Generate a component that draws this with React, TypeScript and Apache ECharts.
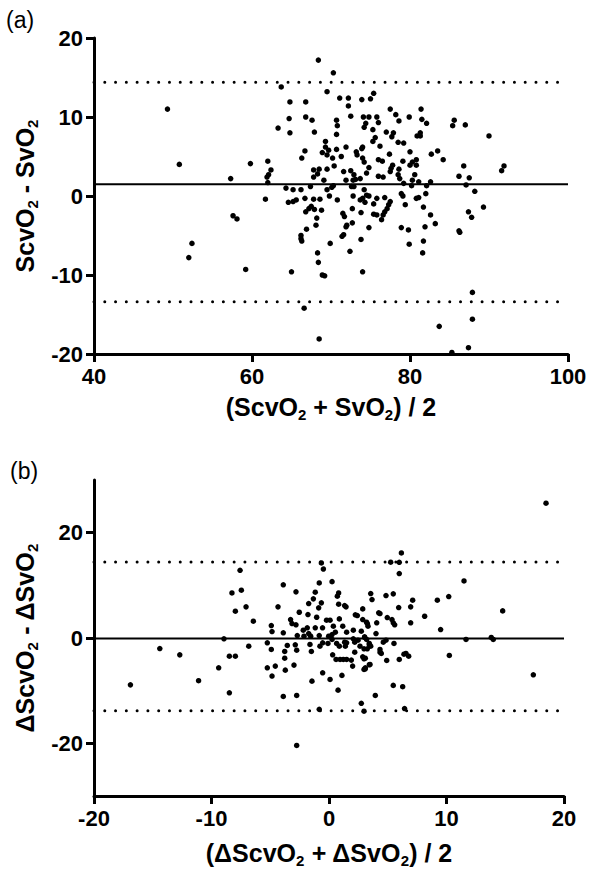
import React, { useEffect, useRef } from "react";
import * as echarts from "echarts";

// ---------- Data: panel (a) ----------
const pointsA: number[][] = [
  [49.3, 11.0], [50.8, 4.0], [52.4, -6.0], [52.0, -7.8], [57.6, -2.5], [58.1, -2.9], [59.2, -9.3],
  [68.4, 17.2], [70.3, 15.6],
  [63.7, 13.8], [69.5, 13.2], [71.1, 12.4], [72.2, 12.4], [72.2, 11.4], [73.9, 12.2], [75.0, 12.3], [75.4, 13.0],
  [64.8, 11.9], [66.8, 11.9], [72.5, 10.1], [74.1, 10.0], [74.8, 10.0], [75.8, 10.0], [64.7, 9.8], [66.8, 10.0],
  [67.6, 9.6], [70.7, 9.6], [70.8, 8.9], [63.3, 8.6], [64.8, 8.0], [67.9, 8.1], [70.7, 7.8], [74.4, 9.2],
  [74.2, 8.7], [75.3, 8.4], [76.0, 9.3], [75.6, 7.4], [75.3, 6.9], [69.3, 6.9], [69.3, 6.2], [68.9, 5.5],
  [69.7, 5.8], [70.7, 5.9], [71.9, 6.2], [73.2, 5.6], [73.3, 5.2], [73.9, 6.0], [74.0, 6.2], [66.7, 5.7],
  [66.3, 4.8], [69.5, 5.2], [70.2, 4.8], [71.3, 5.0], [74.0, 4.8], [74.2, 4.3], [76.0, 4.6], [62.0, 4.4],
  [59.8, 4.1], [62.4, 3.3], [62.1, 2.7], [61.9, 2.4], [57.3, 2.2], [70.4, 3.8], [69.5, 3.4], [68.5, 3.4],
  [67.8, 3.3], [68.3, 2.8], [67.8, 2.4], [71.6, 3.1], [72.5, 3.2], [72.9, 2.7], [72.8, 2.0], [73.1, 2.1],
  [73.7, 2.2], [74.8, 3.6], [74.5, 2.9], [76.0, 2.5], [71.9, 2.0], [69.1, 2.0], [62.0, 1.7], [67.4, 1.2],
  [70.3, 1.3], [70.1, 1.1], [72.6, 1.2], [72.9, 1.2], [64.3, 1.0], [65.2, 0.8], [66.2, 0.8], [69.5, 0.8],
  [74.2, 0.8], [75.8, -0.3], [74.5, 0.1], [74.8, 0.0], [69.8, 0.0], [72.8, 0.0], [61.7, -0.4], [65.6, -0.5],
  [65.2, -0.7], [64.6, -0.8], [66.7, -0.3], [67.8, -0.4], [68.6, -0.4], [70.8, -0.5], [73.7, -0.5], [74.0, -0.3],
  [67.5, -1.3], [67.2, -1.6], [66.8, -2.0], [67.9, -1.7], [68.8, -1.8], [72.7, -1.6], [74.3, -0.8], [75.4, -2.3],
  [75.8, -2.4], [73.8, -2.1], [71.5, -2.2], [71.7, -2.6], [68.2, -2.8], [68.1, -3.7], [72.0, -3.7], [71.9, -3.9],
  [72.7, -3.4], [74.8, -4.0], [66.9, -4.2], [66.2, -5.0], [66.2, -5.4], [66.3, -5.7], [71.6, -4.9], [71.4, -5.1],
  [69.9, -6.0], [73.8, -5.5], [72.4, -7.0], [68.3, -7.2], [68.4, -8.4], [65.0, -9.6], [68.9, -10.0], [69.2, -10.1],
  [74.0, -9.6],
  [77.5, 11.0], [78.2, 10.3], [78.6, 9.5], [79.9, 10.0], [81.4, 11.0], [81.5, 9.7], [82.1, 9.2], [81.3, 8.0],
  [80.9, 7.6], [81.3, 7.6], [77.0, 8.1], [77.9, 8.0], [77.7, 7.5], [76.2, 6.3], [78.5, 6.8], [79.2, 6.7],
  [80.0, 5.6], [82.7, 5.3], [83.5, 5.7], [84.2, 4.6], [77.4, 5.3], [76.5, 4.4], [79.1, 4.4], [80.0, 3.9],
  [80.3, 4.3], [80.8, 4.6], [80.8, 3.9], [77.8, 3.9], [77.6, 3.5], [77.5, 3.1], [78.6, 3.4], [78.5, 2.7],
  [78.7, 2.2], [76.6, 2.4], [80.3, 2.0], [80.6, 2.7], [81.1, 1.8], [82.6, 1.8], [79.2, 1.6], [80.2, 1.3],
  [82.1, 1.3], [86.2, 2.5], [86.8, 3.8], [87.5, 2.3], [87.1, 1.4], [88.2, 0.6], [85.4, 8.9], [85.6, 9.6],
  [87.0, 9.0], [90.0, 7.6], [91.6, 3.2], [91.9, 3.8], [75.4, -1.0], [76.8, -0.2], [77.5, -0.7], [77.3, -1.1],
  [77.1, -1.6], [76.8, -2.0], [78.9, 0.3], [79.1, 0.0], [79.4, -1.1], [81.1, -0.2], [80.8, -0.3], [82.0, 0.3],
  [81.7, -1.4], [82.6, -2.4], [76.6, -2.4], [76.4, -3.0], [78.9, -4.0], [79.8, -4.3], [81.9, -3.9], [83.2, -3.5],
  [86.2, -4.4], [86.3, -4.6], [87.4, -2.0], [87.8, -2.7], [89.3, -1.4], [79.9, -6.1], [81.7, -5.7], [81.6, -7.2],
  [66.6, -14.2], [68.5, -18.1], [87.9, -12.2], [87.9, -15.6], [83.7, -16.5], [87.4, -19.2], [85.3, -19.8],
];
const meanA = 1.5;
const upperA = 14.4;
const lowerA = -13.4;
const xRangeA = [40, 100];
const yRangeA = [-20, 20];

// ---------- Data: panel (b) ----------
const pointsB: number[][] = [
  [-14.4, -2.0], [-12.7, -3.2], [-16.9, -8.9], [-11.1, -8.1],
  [-7.57, 12.85], [-8.26, 8.56], [-7.46, 9.07], [-7.97, 5.09], [-7.06, 5.91], [-6.44, 3.19], [-8.94, -0.16],
  [-6.83, -1.55], [-8.48, -3.45], [-7.97, -3.45], [-9.39, -5.66], [-8.48, -10.4], [-0.48, 13.1], [-0.65, 14.25],
  [-3.89, 10.1], [-2.81, 8.76], [0.26, 10.7], [-0.83, 10.46], [-1.17, 8.69], [-1.73, 6.54], [-1.33, 7.43],
  [-0.88, 5.72], [-0.65, 6.67], [0.71, 7.93], [0.82, 6.41], [1.33, 6.16], [1.45, 5.91], [-4.34, 5.91],
  [-2.53, 4.89], [-1.79, 4.45], [-1.05, 3.94], [-3.27, 3.51], [-3.15, 2.75], [-4.91, 2.37], [-4.85, 1.23],
  [-3.89, 0.98], [-2.81, 2.5], [-2.19, 1.48], [-1.85, 1.93], [-1.17, 1.93], [-0.55, 1.93], [-0.21, 3.38],
  [0.09, 3.38], [0.88, 3.63], [0.37, 2.24], [1.17, 2.24], [-2.7, 0.47], [-2.13, 0.34], [-1.73, 0.85],
  [-1.56, 0.34], [-0.83, 0.47], [-0.03, 0.34], [0.26, 0.66], [0.54, 1.1], [1.5, 1.1], [2.07, 1.48],
  [2.24, 4.4], [2.41, 4.27], [2.87, 5.53], [3.66, 7.3], [3.55, 8.44], [2.87, 3.51], [3.26, 2.75], [3.32, 2.24],
  [2.75, 1.29], [0.82, 8.56], [-5.25, -0.91], [-4.91, -2.18], [-3.77, -2.56], [-3.77, -3.83], [-3.55, -1.42],
  [-2.87, -1.29], [-2.75, -2.31], [-1.62, -1.23], [-1.5, -2.56], [-0.77, -1.55], [-0.54, -0.91], [-0.09, -1.04],
  [0.26, -0.28], [0.65, -1.04], [0.88, -1.55], [1.33, -0.8], [1.39, -1.55], [1.5, -0.91], [2.07, -0.16],
  [2.19, -0.8], [2.47, -0.41], [2.64, -1.55], [3.03, 0.22], [3.2, -0.28], [3.43, -1.04], [3.55, -1.55],
  [2.19, -2.69], [2.87, -3.57], [3.09, -3.83], [0.6, -4.08], [0.94, -4.08], [1.22, -4.08], [1.5, -4.08],
  [1.9, -4.2], [0.31, -3.19], [2.01, -5.34], [1.1, -7.1], [-0.54, -6.6], [0.09, -7.87], [-1.45, -8.19],
  [-2.98, -5.15], [-3.72, -6.1], [-4.57, -5.34], [-5.25, -5.66], [-4.85, -7.23], [-3.89, -11.1], [-2.75, -10.9],
  [0.77, -9.9], [2.98, -5.97], [3.09, -5.66], [3.49, -5.02], [3.94, -10.9], [4.23, 4.78],
  [18.47, 25.6], [6.16, 16.15], [5.25, 14.4], [5.98, 14.37], [5.98, 12.23], [11.49, 10.84], [4.85, 8.06],
  [5.47, 8.38], [7.12, 7.17], [9.22, 7.17], [10.19, 7.87], [5.93, 5.78], [6.95, 5.91], [8.14, 4.13],
  [14.78, 5.15], [4.34, 4.64], [4.96, 3.89], [5.36, 3.51], [5.47, 2.88], [5.59, 2.5], [6.95, 2.88], [3.2, 3.0],
  [4.06, 2.88], [9.5, 1.61], [4.0, 0.85], [3.03, 0.1], [4.62, -0.8], [4.85, -0.41], [5.53, -1.04], [11.66, -0.28],
  [13.81, 0.1], [13.98, -0.28], [3.43, -1.29], [3.26, -2.05], [2.98, -2.05], [4.34, -2.18], [4.45, -2.94],
  [4.91, -4.27], [5.98, -4.08], [6.38, -3.07], [6.55, -2.94], [6.78, -3.45], [10.24, -3.32], [2.98, -3.95],
  [3.09, -5.84], [3.43, -5.08], [17.39, -6.98],
  [-2.75, -20.4], [-0.83, -13.55], [2.75, -12.4], [2.98, -13.9], [5.47, -9.0], [6.27, -9.25], [6.43, -13.4],
  [4.34, -2.69],
];
const meanB = -0.1;
const upperB = 14.45;
const lowerB = -13.8;
const xRangeB = [-20, 20];
const yRangeB = [-30, 30];
const yTicksB = [-20, 0, 20];

const FONT = "'Liberation Sans', Arial, Helvetica, sans-serif";
const TICK_FS = 22;
const TITLE_FS = 25;

const rich = {
  n: { fontSize: TITLE_FS, fontWeight: "bold", fontFamily: FONT, color: "#000", lineHeight: 30 },
  s: { fontSize: 15, fontWeight: "bold", fontFamily: FONT, color: "#000", lineHeight: 13, verticalAlign: "bottom" },
};

const axisCommon = {
  axisLine: { show: true, onZero: false, lineStyle: { color: "#000", width: 3 } },
  axisTick: { show: true, inside: false, length: 8, lineStyle: { color: "#000", width: 3 } },
  splitLine: { show: false },
  axisLabel: { color: "#000", fontSize: TICK_FS, fontWeight: "bold", fontFamily: FONT, margin: 11 },
  nameLocation: "middle",
  nameTextStyle: { rich },
};

const dotted = { color: "#000", width: 3, type: [0.01, 10.77], cap: "round" };
const solid = { color: "#000", width: 2 };

function hLine(name: string, y: number, range: number[], idx: number, style: any) {
  return {
    name,
    type: "line",
    xAxisIndex: idx,
    yAxisIndex: idx,
    data: [[range[0], y], [range[1], y]],
    symbol: "none",
    lineStyle: style,
    silent: true,
    z: 1,
  };
}

export default function App() {
  const ref = useRef<HTMLDivElement>(null);
  useEffect(() => {
    if (!ref.current) return;
    const chart = echarts.init(ref.current, null, { renderer: "svg" });
    const option: any = {
      animation: false,
      backgroundColor: "#fff",
      grid: [
        { left: 94, top: 38, width: 474, height: 316 },
        { left: 94, top: 480, width: 470, height: 316 },
      ],
      xAxis: [
        {
          ...axisCommon,
          gridIndex: 0,
          type: "value",
          min: xRangeA[0],
          max: xRangeA[1],
          interval: 20,
          name: "{n|(ScvO}{s|2}{n| + SvO}{s|2}{n|) / 2}",
          nameGap: 38,
        },
        {
          ...axisCommon,
          gridIndex: 1,
          type: "value",
          min: xRangeB[0],
          max: xRangeB[1],
          interval: 10,
          name: "{n|(ΔScvO}{s|2}{n| + ΔSvO}{s|2}{n|) / 2}",
          nameGap: 42,
        },
      ],
      yAxis: [
        {
          ...axisCommon,
          gridIndex: 0,
          type: "value",
          min: yRangeA[0],
          max: yRangeA[1],
          interval: 10,
          name: "{n|ScvO}{s|2}{n| - SvO}{s|2}",
          nameRotate: 90,
          nameGap: 50,
        },
        {
          ...axisCommon,
          gridIndex: 1,
          type: "value",
          min: yRangeB[0],
          max: yRangeB[1],
          axisTick: { ...axisCommon.axisTick, customValues: yTicksB },
          axisLabel: { ...axisCommon.axisLabel, customValues: yTicksB },
          name: "{n|ΔScvO}{s|2}{n| - ΔSvO}{s|2}",
          nameRotate: 90,
          nameGap: 50,
        },
      ],
      graphic: [
        { type: "text", left: 6, top: 8, style: { text: "(a)", fontSize: 23, fontFamily: FONT, fill: "#000" } },
        { type: "text", left: 10, top: 459, style: { text: "(b)", fontSize: 23, fontFamily: FONT, fill: "#000" } },
      ],
      series: [
        hLine("upperA", upperA, xRangeA, 0, dotted),
        hLine("meanA", meanA, xRangeA, 0, solid),
        hLine("lowerA", lowerA, xRangeA, 0, dotted),
        hLine("upperB", upperB, xRangeB, 1, dotted),
        hLine("meanB", meanB, xRangeB, 1, solid),
        hLine("lowerB", lowerB, xRangeB, 1, dotted),
        {
          name: "a",
          type: "scatter",
          xAxisIndex: 0,
          yAxisIndex: 0,
          data: pointsA,
          symbol: "circle",
          symbolSize: 5.5,
          itemStyle: { color: "#000", opacity: 1 },
          z: 3,
        },
        {
          name: "b",
          type: "scatter",
          xAxisIndex: 1,
          yAxisIndex: 1,
          data: pointsB,
          symbol: "circle",
          symbolSize: 5.5,
          itemStyle: { color: "#000", opacity: 1 },
          z: 3,
        },
      ],
    };
    chart.setOption(option);
    return () => chart.dispose();
  }, []);
  return (
    <div
      ref={ref}
      style={{ position: "fixed", left: 0, top: 0, width: 600, height: 877, background: "#fff" }}
    />
  );
}
